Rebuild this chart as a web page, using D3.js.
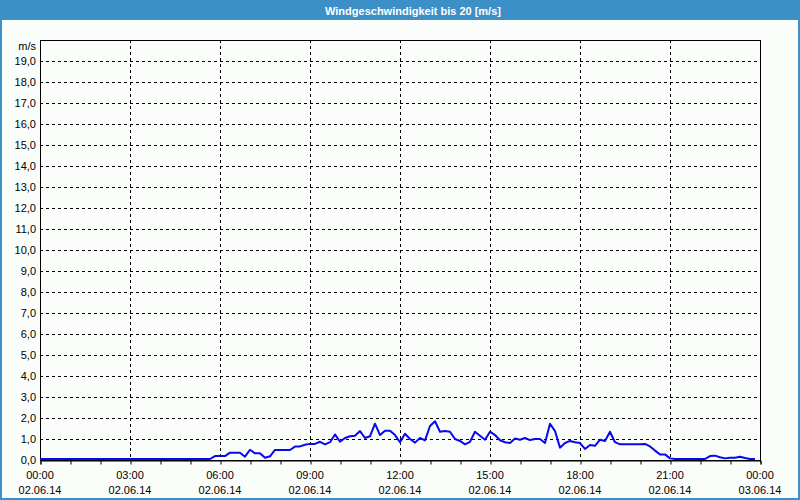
<!DOCTYPE html>
<html><head><meta charset="utf-8">
<script src="https://cdn.jsdelivr.net/npm/d3@7"></script>
<style>
html,body{margin:0;padding:0;background:#fbfdfb;}
svg{display:block;}
text{font-family:"Liberation Sans",Arial,sans-serif;}
</style></head>
<body>
<script>
const title = "Windgeschwindigkeit bis 20 [m/s]";
const unitLabel = "m/s";
const times = ["00:00","05:40","05:50","06:10","06:20","06:40","06:50","07:00","07:10","07:20","07:30","07:40","07:50","08:00","08:10","08:20","08:30","08:40","08:50","09:00","09:10","09:20","09:30","09:40","09:50","10:00","10:10","10:20","10:30","10:40","10:50","11:00","11:10","11:20","11:30","11:40","11:50","12:00","12:10","12:20","12:30","12:40","12:50","13:00","13:10","13:20","13:30","13:40","13:50","14:00","14:10","14:20","14:30","14:40","14:50","15:00","15:10","15:20","15:30","15:40","15:50","16:00","16:10","16:20","16:30","16:40","16:50","17:00","17:10","17:20","17:30","17:40","17:50","18:00","18:10","18:20","18:30","18:40","18:50","19:00","19:10","19:20","19:30","19:40","19:50","20:00","20:10","20:20","20:30","20:40","20:50","21:00","21:10","21:20","21:30","21:40","21:50","22:00","22:10","22:20","22:30","22:40","22:50","23:00","23:10","23:20","23:30","23:40","23:50"];
const speeds = [0,0,0.14,0.14,0.3,0.3,0.11,0.44,0.27,0.27,0.06,0.13,0.43,0.43,0.43,0.43,0.59,0.6,0.68,0.72,0.72,0.82,0.7,0.8,1.17,0.82,1.0,1.08,1.11,1.33,1.0,1.08,1.68,1.14,1.35,1.35,1.14,0.8,1.2,0.95,0.78,1.0,0.89,1.57,1.8,1.3,1.33,1.3,0.95,0.86,0.7,0.82,1.3,1.11,0.92,1.3,1.14,0.89,0.8,0.76,0.98,0.92,1.0,0.9,0.95,0.95,0.76,1.68,1.33,0.54,0.76,0.86,0.8,0.76,0.48,0.67,0.63,0.92,0.86,1.3,0.8,0.7,0.7,0.7,0.7,0.7,0.72,0.6,0.4,0.22,0.22,0.03,0,0,0,0,0,0,0,0.14,0.16,0.08,0.03,0.06,0.06,0.11,0.05,0,0];
const xTickTimes = ["00:00","03:00","06:00","09:00","12:00","15:00","18:00","21:00","00:00"];
const xTickDates = ["02.06.14","02.06.14","02.06.14","02.06.14","02.06.14","02.06.14","02.06.14","02.06.14","03.06.14"];
const yTicks = [0,1,2,3,4,5,6,7,8,9,10,11,12,13,14,15,16,17,18,19];

const W=800,H=500, L=40,R=760,T=40,B=460;
const blue="#3d8fc7";
const svg=d3.select("body").append("svg").attr("width",W).attr("height",H);
svg.append("rect").attr("width",W).attr("height",H).attr("fill","#fbfdfb");
svg.append("rect").attr("x",0).attr("y",0).attr("width",W).attr("height",20).attr("fill",blue);
svg.append("rect").attr("x",1).attr("y",1).attr("width",W-2).attr("height",H-2).attr("fill","none").attr("stroke",blue).attr("stroke-width",2);
svg.append("text").attr("x",W/2+13).attr("y",15).attr("text-anchor","middle").attr("fill","#fff")
  .attr("font-size",11).attr("font-weight","bold").text(title);

const toH = s=>{const [h,m]=s.split(":").map(Number);return h+m/60;};
const x=d3.scaleLinear().domain([0,24]).range([L,R]);
const y=d3.scaleLinear().domain([0,20]).range([B,T]);

svg.append("g").selectAll("line").data(yTicks.filter(d=>d>0)).join("line")
  .attr("x1",L).attr("x2",R).attr("y1",d=>Math.round(y(d))+0.5).attr("y2",d=>Math.round(y(d))+0.5)
  .attr("stroke","#000").attr("stroke-dasharray","3,3").attr("stroke-width",1);
svg.append("g").selectAll("line").data(d3.range(3,24,3)).join("line")
  .attr("x1",d=>Math.round(x(d))+0.5).attr("x2",d=>Math.round(x(d))+0.5).attr("y1",T).attr("y2",B)
  .attr("stroke","#000").attr("stroke-dasharray","3,3").attr("stroke-width",1);
svg.append("rect").attr("x",L+0.5).attr("y",T+0.5).attr("width",R-L).attr("height",B-T)
  .attr("fill","none").attr("stroke","#000").attr("stroke-width",1);

const xAxis=d3.axisBottom(x).tickValues(d3.range(0,25,1)).tickSize(4).tickFormat("");
const gx=svg.append("g").attr("transform",`translate(0.5,${B+0.5})`).call(xAxis);
gx.select(".domain").attr("stroke","#000");
gx.selectAll(".tick line").attr("stroke","#000");
const lab=svg.append("g");
lab.selectAll("text.t").data(xTickTimes).join("text").attr("class","t")
  .attr("x",(d,i)=>x(i*3)).attr("y",479).attr("text-anchor","middle").attr("font-size",11).attr("fill","#000").text(d=>d);
lab.selectAll("text.d").data(xTickDates).join("text").attr("class","d")
  .attr("x",(d,i)=>x(i*3)).attr("y",494).attr("text-anchor","middle").attr("font-size",11).attr("fill","#000").text(d=>d);
svg.append("g").selectAll("text").data(yTicks).join("text")
  .attr("x",36).attr("y",d=>y(d)+4).attr("text-anchor","end").attr("font-size",11).attr("fill","#000")
  .text(d=>d.toFixed(1).replace(".",","));
svg.append("text").attr("x",36).attr("y",50).attr("text-anchor","end").attr("font-size",11).attr("fill","#000").text(unitLabel);

const data=times.map((t,i)=>({h:toH(t),v:speeds[i]}));
svg.append("path").datum(data).attr("fill","none").attr("stroke","#0808ee").attr("stroke-width",2)
  .attr("stroke-linejoin","round")
  .attr("d",d3.line().x(d=>x(d.h)).y(d=>y(d.v)-1));
</script>
</body></html>
